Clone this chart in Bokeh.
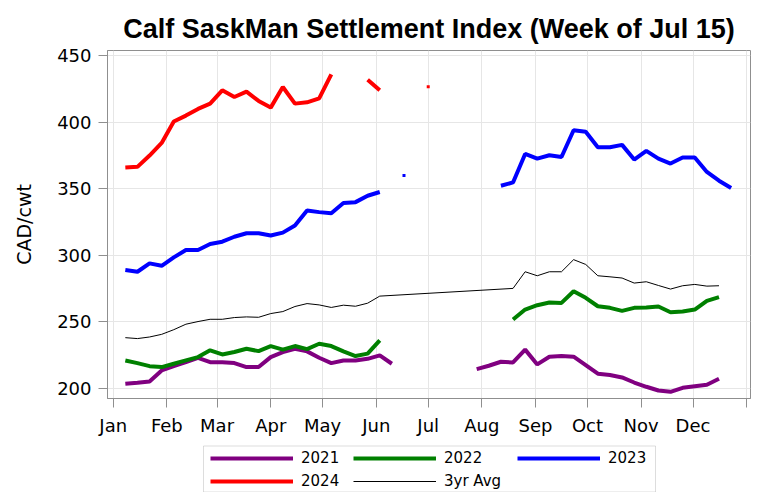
import numpy as np
import pandas as pd
from bokeh.plotting import figure
from bokeh.layouts import column
from bokeh.models import Range1d, FixedTicker, Legend, LegendItem, BoxAnnotation
from bokeh.embed import file_html
from bokeh.resources import INLINE

# ---------------- data ----------------
title_text = "Calf SaskMan Settlement Index (Week of Jul 15)"
y_label = "CAD/cwt"
month_labels = ["Jan", "Feb", "Mar", "Apr", "May", "Jun",
                "Jul", "Aug", "Sep", "Oct", "Nov", "Dec"]
y_ticks = [200, 250, 300, 350, 400, 450]
first_week = "2024-01-08"
n_weeks = 51

s2021 = [203.5, 204.3, 205.3, 213.6, 216.8, 219.8, 223.1, 219.8, 219.8, 219.1,
         216.1, 216.1, 223.6, 227.4, 229.9, 227.9, 223.1, 219.1, 221.1, 221.1,
         222.3, 224.9, 218.6, None, None, None, None, None, None, 214.6,
         217.1, 220.1, 219.6, 229.2, 218.1, 223.9, 224.4, 223.9, 217.6, 211.1,
         210.1, 208.3, 204.5, 201.3, 198.5, 197.5, 200.5, 201.7, 202.8, 207.3,
         None]
s2022 = [221.1, 219.1, 216.8, 216.1, 218.6, 221.1, 223.6, 228.7, 225.6, 227.4,
         229.9, 228.1, 231.9, 229.2, 231.9, 229.6, 233.6, 231.9, 227.9, 224.4,
         226.2, 236.2, None, None, None, None, None, None, None, None,
         None, None, 251.8, 259.3, 262.6, 264.6, 264.3, 273.1, 268.1, 261.8,
         260.6, 258.3, 260.6, 260.8, 261.6, 257.3, 257.8, 259.3, 265.8, 268.6,
         None]
s2023 = [289.0, 287.7, 294.0, 292.2, 298.5, 304.0, 304.0, 308.6, 310.3, 314.0,
         316.6, 316.6, 314.9, 317.1, 322.4, 333.7, 332.5, 331.7, 339.3, 340.0,
         344.8, 347.6, None, 360.0, None, None, None, None, None, None,
         None, 352.3, 354.8, 376.2, 372.7, 375.2, 373.9, 394.0, 392.8, 381.2,
         381.2, 383.0, 372.0, 378.5, 372.7, 369.0, 373.5, 373.5, 362.7, 356.1,
         350.6]
s2024 = [366.0, 366.5, 375.0, 384.5, 400.6, 405.0, 410.0, 414.0, 424.0, 419.0,
         423.0, 416.0, 411.0, 426.5, 414.0, 415.0, 418.0, 436.0, None, None,
         432.0, 424.0, None, None, None, 426.7, None, None, None, None,
         None, None, None, None, None, None, None, None, None, None,
         None, None, None, None, None, None, None, None, None, None,
         None]
avg3 = [238.2, 237.5, 238.7, 240.7, 244.2, 248.3, 250.3, 252.0, 252.0, 253.3,
        253.8, 253.5, 256.3, 257.8, 261.6, 263.8, 262.8, 260.9, 262.6, 261.8,
        264.1, 269.4, None, None, None, None, None, None, None, None,
        None, None, 275.2, 287.7, 284.7, 287.7, 287.7, 296.8, 293.2, 284.7,
        283.9, 283.0, 279.2, 280.2, 277.4, 274.7, 277.2, 278.2, 276.9, 277.2,
        None]

series_names = ["2021", "2022", "2023", "2024"]
series_values = [s2021, s2022, s2023, s2024]
series_colors = ["#800080", "#008000", "#0000FF", "#FF0000"]
avg_name = "3yr Avg"

# ---------------- x positions (days from Jan 1) ----------------
year_start = pd.Timestamp("2024-01-01")
week_dates = pd.date_range(first_week, periods=n_weeks, freq="7D")
x_days = np.array([(d - year_start).days for d in week_dates], dtype=float)
month_starts = pd.date_range("2024-01-01", periods=13, freq="MS")
tick_days = [(d - year_start).days for d in month_starts]
overrides = {t: (month_labels[i] if i < 12 else "") for i, t in enumerate(tick_days)}

GRAY = "#8f8f8f"
FONT = "DejaVu Sans"
BORDER_L, BORDER_R = 107, 1

# ---------------- main plot ----------------
p = figure(width=751, height=444, output_backend="svg", toolbar_location=None,
           x_range=Range1d(-3.3, 368.2), y_range=Range1d(192.5, 453.9),
           min_border_left=BORDER_L, min_border_right=BORDER_R,
           min_border_top=50, min_border_bottom=46)

p.title.text = title_text
p.title.align = "center"
p.title.text_font = "Liberation Sans"
p.title.text_font_style = "bold"
p.title.text_font_size = "27px"
p.title.text_color = "black"
p.title.standoff = 13

p.outline_line_color = GRAY
p.outline_line_width = 1

p.xaxis.ticker = FixedTicker(ticks=tick_days)
p.xaxis.major_label_overrides = overrides
p.yaxis.ticker = FixedTicker(ticks=y_ticks)
for ax in (p.xaxis[0], p.yaxis[0]):
    ax.axis_line_color = GRAY
    ax.major_tick_line_color = GRAY
    ax.major_tick_out = 9
    ax.major_tick_in = 0
    ax.minor_tick_line_color = None
    ax.major_label_text_font = FONT
    ax.major_label_text_font_size = "18px"
    ax.major_label_text_color = "black"
p.xaxis.major_label_standoff = 7
p.yaxis.major_label_standoff = 7
p.yaxis.axis_label = y_label
p.yaxis.axis_label_text_font = FONT
p.yaxis.axis_label_text_font_size = "19px"
p.yaxis.axis_label_text_font_style = "normal"
p.yaxis.axis_label_text_color = "black"
p.yaxis.axis_label_standoff = 19

p.xgrid.ticker = FixedTicker(ticks=tick_days)
p.ygrid.ticker = FixedTicker(ticks=y_ticks)
p.grid.grid_line_color = "#e6e6e6"
p.grid.grid_line_width = 1

for name, vals, color in zip(series_names, series_values, series_colors):
    y = np.array(vals, dtype=float)
    p.line(x_days, y, line_color=color, line_width=4)
    # isolated single weeks drawn as small dots
    iso = [i for i in range(len(y)) if not np.isnan(y[i])
           and (i == 0 or np.isnan(y[i - 1]))
           and (i == len(y) - 1 or np.isnan(y[i + 1]))]
    if iso:
        p.scatter(x_days[iso], y[iso], marker="square", size=3,
                  fill_color=color, line_color=None)

ya = np.array(avg3, dtype=float)
mask = ~np.isnan(ya)
p.line(x_days[mask], ya[mask], line_color="black", line_width=1)

# ---------------- legend strip (pixel coordinates inside its frame) ----------------
frame_w = 751 - BORDER_L - BORDER_R
leg = figure(width=751, height=48, output_backend="svg", toolbar_location=None,
             x_range=Range1d(0, frame_w), y_range=Range1d(0, 48),
             min_border_left=BORDER_L, min_border_right=BORDER_R,
             min_border_top=0, min_border_bottom=0)
leg.axis.visible = False
leg.grid.visible = False
leg.outline_line_color = None

swatch = {}
for name, color in zip(series_names, series_colors):
    swatch[name] = leg.line([np.nan], [np.nan], line_color=color, line_width=4)
swatch[avg_name] = leg.line([np.nan], [np.nan], line_color="black", line_width=1)

leg.add_layout(BoxAnnotation(left=203 - BORDER_L, right=655 - BORDER_L,
                             bottom=0.5, top=46.5,
                             fill_color=None, line_color=GRAY, line_width=1))

legend_columns = [(["2021", "2024"], 210, 2.4),
                  (["2022", avg_name], 353, 2.4),
                  (["2023"], 517, 25.4)]
for labels, lx, ly in legend_columns:
    lg = Legend(items=[LegendItem(label=l, renderers=[swatch[l]]) for l in labels],
                orientation="vertical", location=(lx - BORDER_L, ly), glyph_width=83,
                glyph_height=18, label_height=18, label_standoff=8, spacing=5,
                padding=0, margin=0, border_line_color=None,
                background_fill_alpha=0,
                label_text_font=FONT, label_text_font_size="15px",
                label_text_color="black")
    leg.add_layout(lg, "center")

layout = column(p, leg, spacing=0)
open("out.html", "w").write(file_html(layout, INLINE))
